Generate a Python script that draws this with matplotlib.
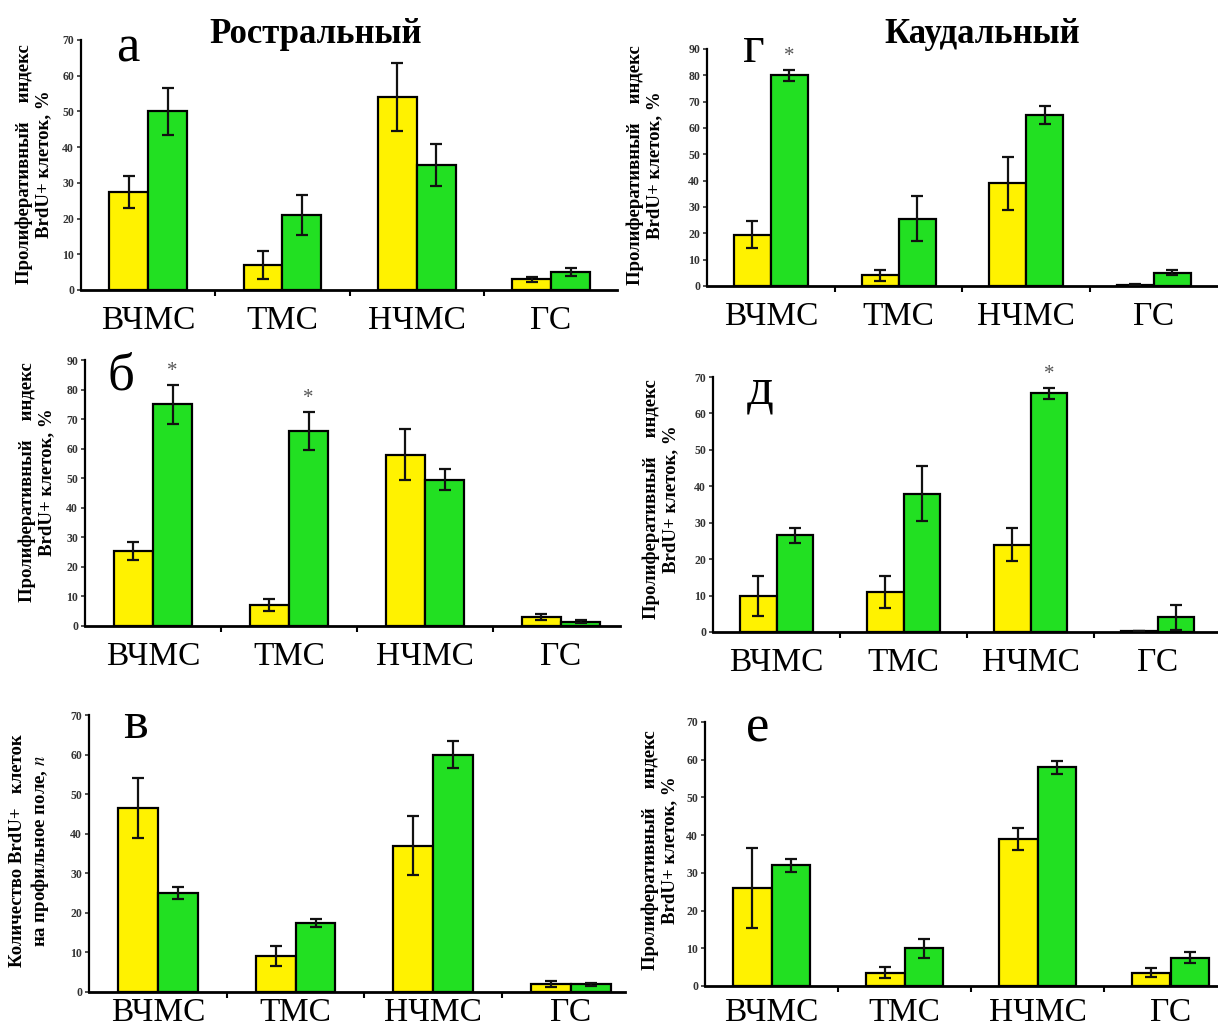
import numpy as np
import matplotlib
matplotlib.use('Agg')
import matplotlib.pyplot as plt

plt.rcParams['font.family'] = ['Liberation Serif', 'DejaVu Serif']
plt.rcParams['mathtext.fontset'] = 'stix'

W, H = 1218, 1030

categories = ['ВЧМС', 'ТМС', 'НЧМС', 'ГС']

# а - rostral, proliferative index
a_yellow = [27.5, 7, 54, 3]
a_yellow_err = [4.5, 4, 9.5, 0.7]
a_green = [50, 21, 35, 5]
a_green_err = [6.5, 5.5, 6, 1.2]
a_stars = []

# б - rostral
b_yellow = [25.5, 7, 58, 3]
b_yellow_err = [3, 2, 8.5, 1]
b_green = [75, 66, 49.5, 1.5]
b_green_err = [6.5, 6.5, 3.5, 0.6]
b_stars = [0, 1]

# в - rostral, cell count
v_yellow = [46.5, 9, 37, 2]
v_yellow_err = [7.5, 2.5, 7.5, 0.7]
v_green = [25, 17.5, 60, 2]
v_green_err = [1.5, 1, 3.5, 0.4]
v_stars = []

# г - caudal
g_yellow = [19.5, 4, 39, 0.5]
g_yellow_err = [5, 2, 10, 0.3]
g_green = [80, 25.5, 65, 5]
g_green_err = [2, 8.5, 3.5, 1]
g_stars = [0]

# д - caudal
d_yellow = [10, 11, 24, 0.2]
d_yellow_err = [5.5, 4.5, 4.5, 0]
d_green = [26.5, 38, 65.5, 4]
d_green_err = [2, 7.5, 1.5, 3.5]
d_stars = [2]

# е - caudal
e_yellow = [26, 3.5, 39, 3.5]
e_yellow_err = [10.5, 1.5, 3, 1.2]
e_green = [32, 10, 58, 7.5]
e_green_err = [1.7, 2.5, 1.7, 1.5]
e_stars = []

YELLOW = '#fff200'
GREEN = '#22e022'

label_pi = 'Пролиферативный    индекс\nBrdU+ клеток, %'
label_n = 'Количество BrdU+   клеток\nна профильное поле, $n$'

fig = plt.figure(figsize=(W / 100, H / 100), dpi=100)


def panel(letter, yv, ye, gv, ge, stars, ymax, left, right, y0, ytop, spacing,
          ylabel, lab_x, lab_y, letter_xy, xpad=11):
    ax = fig.add_axes([left / W, 1 - y0 / H, (right - left) / W, (y0 - ytop) / H])
    ax.patch.set_alpha(0)
    x = np.arange(len(categories))
    bw = 0.29
    ax.bar(x - bw / 2, yv, bw, color=YELLOW, edgecolor='black', linewidth=1.6, zorder=2)
    ax.bar(x + bw / 2, gv, bw, color=GREEN, edgecolor='black', linewidth=1.6, zorder=2)
    ax.errorbar(x - bw / 2, yv, yerr=ye, fmt='none', ecolor='#111111',
                elinewidth=1.6, capsize=4, capthick=1.6, zorder=3)
    ax.errorbar(x + bw / 2, gv, yerr=ge, fmt='none', ecolor='#111111',
                elinewidth=1.6, capsize=4, capthick=1.6, zorder=3)
    for i in stars:
        ax.annotate('*', (x[i] + bw / 2, gv[i] + ge[i]), xytext=(0, 3),
                    textcoords='offset points', ha='center', va='bottom',
                    fontsize=15, color='#555555')
    ax.set_ylim(0, ymax)
    xr = (right - left) / spacing
    ax.set_xlim(-0.5, -0.5 + xr)
    ax.set_yticks(np.arange(0, ymax + 1, 10))
    ax.tick_params(axis='y', labelsize=8.5, length=3, width=1.2, colors='#333333', pad=2)
    for t in ax.get_yticklabels():
        t.set_fontweight('bold')
    ax.set_xticks(x)
    ax.set_xticklabels(categories, fontsize=24)
    ax.tick_params(axis='x', which='major', length=0, pad=xpad)
    ax.set_xticks([0.5, 1.5, 2.5], minor=True)
    ax.tick_params(axis='x', which='minor', length=4, width=1.5, direction='out')
    ax.spines['top'].set_visible(False)
    ax.spines['right'].set_visible(False)
    ax.spines['left'].set_linewidth(1.6)
    ax.spines['bottom'].set_linewidth(2.0)
    fig.text(lab_x / W, 1 - lab_y / H, ylabel, rotation=90, ha='center', va='center',
             fontsize=13.5, fontweight='bold', multialignment='center', linespacing=1.15)
    fig.text(letter_xy[0] / W, 1 - letter_xy[1] / H, letter, ha='center',
             va='baseline', fontsize=38)
    return ax


panel('а', a_yellow, a_yellow_err, a_green, a_green_err, a_stars, 70,
      81, 617, 290, 40, 134.3, label_pi, 34, 164, (128, 62))
panel('б', b_yellow, b_yellow_err, b_green, b_green_err, b_stars, 90,
      85, 620, 626, 360, 136, label_pi, 37, 482, (121, 390))
panel('в', v_yellow, v_yellow_err, v_green, v_green_err, v_stars, 70,
      89, 625, 992, 715, 137.7, label_n, 30, 851, (135, 738), xpad=4)
panel('г', g_yellow, g_yellow_err, g_green, g_green_err, g_stars, 90,
      707, 1225, 286, 49, 127.7, label_pi, 645, 165, (754, 62))
panel('д', d_yellow, d_yellow_err, d_green, d_green_err, d_stars, 70,
      713, 1225, 632, 377, 127, label_pi, 661, 499, (760, 403))
panel('е', e_yellow, e_yellow_err, e_green, e_green_err, e_stars, 70,
      705, 1245, 986, 722, 133, label_pi, 660, 850, (758, 742), xpad=8)

fig.text(316 / W, 1 - 43 / H, 'Ростральный', ha='center', va='baseline',
         fontsize=25, fontweight='bold')
fig.text(982 / W, 1 - 43 / H, 'Каудальный', ha='center', va='baseline',
         fontsize=25, fontweight='bold')

fig.savefig('out.png', dpi=100)
